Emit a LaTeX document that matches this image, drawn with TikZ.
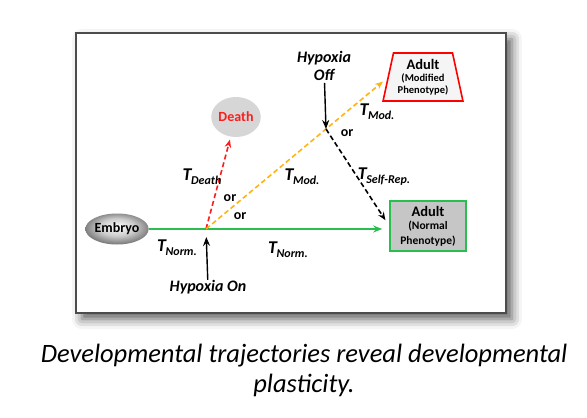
\documentclass[tikz,border=0pt]{standalone}
\usepackage{fontspec}
\setmainfont{Carlito}
\usepackage{xcolor}
\usetikzlibrary{calc, positioning, shapes.geometric, shadows.blur, arrows.meta}
\definecolor{normgreen}{RGB}{40,190,80}
\definecolor{modyellow}{RGB}{255,180,20}
\definecolor{deathred}{RGB}{250,30,30}
\pgfdeclareradialshading{embryoshade}{\pgfpoint{0bp}{4bp}}{color(0bp)=(white); color(14bp)=(gray!40); color(30bp)=(gray!75!black); color(50bp)=(gray!75!black)}
\newcommand{\tlab}[1]{T\kern-0.5pt\raisebox{-0.45ex}{\fontsize{12}{12}\selectfont #1}}
\tikzset{every node/.append style={font=\bfseries\fontsize{14}{14}\selectfont}}
\tikzset{
  tlabel/.style={font=\bfseries\itshape\fontsize{18}{18}\selectfont, inner sep=0pt},
  hyplabel/.style={font=\bfseries\itshape\fontsize{16}{18}\selectfont, align=center, inner sep=0pt},
  orlabel/.style={inner sep=0pt},
  dashedarrow/.style={-{Stealth[length=8pt, width=6.5pt]}, line width=1.6pt, dash pattern=on 5pt off 3pt},
  solidarrow/.style={-{Stealth[length=9pt, width=7pt]}}
}

\begin{document}
\begin{tikzpicture}[x=1pt, y=-1pt, >=stealth]
    \useasboundingbox (0,0) rectangle (587,418);
    % frame with shadow
    \draw[black!70, line width=1.2pt, fill=white,
      blur shadow={shadow xshift=6pt, shadow yshift=-6pt, shadow blur radius=10pt, shadow opacity=65}]
      (76,33) rectangle (506,313);
    % states
    \node[ellipse, minimum width=58pt, minimum height=31pt, inner sep=0pt,
      shading=embryoshade] (embryo) at (117,229) {Embryo};
    \node[ellipse, minimum width=46pt, minimum height=40pt, inner sep=0pt,
      fill=gray!32, text=deathred, font=\bfseries\fontsize{14}{14}\selectfont] (death) at (236,117) {Death};
    \node[trapezium, trapezium stretches=true, trapezium left angle=76, trapezium right angle=76,
      minimum width=80pt, minimum height=48pt, draw=red, line width=1.6pt, fill=gray!8,
      align=center, inner sep=0pt, font=\bfseries\fontsize{14.5}{15}\selectfont] (adultmod) at (423,77)
      {Adult\\[-3pt]{\fontsize{10.5}{13}\selectfont (Modified}\\[-3pt]{\fontsize{10.5}{13}\selectfont Phenotype)}};
    \node[rectangle, minimum width=76pt, minimum height=50pt, draw=normgreen, line width=1.6pt,
      fill=gray!45, align=center, inner sep=0pt, font=\bfseries\fontsize{14.5}{15}\selectfont] (adultnorm) at (428,226)
      {Adult\\[-2pt]{\fontsize{11.5}{12}\selectfont (Normal}\\{\fontsize{11.5}{11}\selectfont Phenotype)}};
    % switch points
    \coordinate (on) at (206,229);
    \coordinate (off) at (326,129);
    \coordinate (modtip) at ($(on)!1.475!(off)$);
    \node[hyplabel] (hypon) at (208,287) {Hypoxia On};
    \node[hyplabel] (hypoff) at (324,66) {Hypoxia\\Off};
    % trajectories
    \draw[solidarrow, normgreen, line width=1.6pt, shorten >=7pt] (embryo) -- (embryo -| adultnorm.west);
    \draw[dashedarrow, deathred, shorten >=3pt] (on) -- (death);
    \draw[dashedarrow, modyellow] (on) -- (modtip);
    \draw[dashedarrow, black, shorten >=7pt] (off) -- (adultnorm.west);
    \draw[solidarrow, line width=1.4pt, shorten >=8pt] (hypon) -- (on);
    \draw[solidarrow, line width=1.4pt, shorten <=2pt] (hypoff) -- (off);
    % labels
    \node[tlabel] (tdeath) at (202,177) {\tlab{Death}};
    \node[tlabel] (tmodlow) at (302,177) {\tlab{Mod.}};
    \node[tlabel] (tmodup) at (377,112) {\tlab{Mod.}};
    \node[tlabel] (tselfrep) at (384,177) {\tlab{Self-Rep.}};
    \node[tlabel] (tnormleft) at (177,248) {\tlab{Norm.}};
    \node[tlabel] (tnormright) at (288,250) {\tlab{Norm.}};
    \node[orlabel] (ordeath) at (230,198) {or};
    \node[orlabel] (ormod) at (240,216) {or};
    \node[orlabel] (oroff) at (347,133) {or};
    % caption
    \node[font=\itshape\fontsize{26.5}{30}\selectfont, align=center] (caption) at (304,370)
      {Developmental trajectories reveal developmental\\plasticity.};
\end{tikzpicture}
\end{document}
